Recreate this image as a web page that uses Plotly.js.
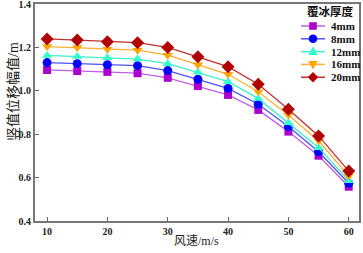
<!DOCTYPE html>
<html><head><meta charset="utf-8">
<script src="https://cdn.plot.ly/plotly-3.0.1.min.js"></script>
<style>html,body{margin:0;padding:0;background:#fff}#chart{width:363px;height:253px}</style>
</head><body><div id="chart"></div>
<script>
const windSpeed = [10, 15, 20, 25, 30, 35, 40, 45, 50, 55, 60];
const seriesNames = ['4mm', '8mm', '12mm', '16mm', '20mm'];
const ice4mm  = [1.096, 1.091, 1.087, 1.081, 1.060, 1.022, 0.981, 0.912, 0.812, 0.701, 0.558];
const ice8mm  = [1.130, 1.125, 1.120, 1.116, 1.093, 1.053, 1.011, 0.938, 0.835, 0.719, 0.574];
const ice12mm = [1.163, 1.158, 1.152, 1.146, 1.125, 1.085, 1.042, 0.965, 0.853, 0.738, 0.586];
const ice16mm = [1.204, 1.199, 1.192, 1.187, 1.164, 1.120, 1.076, 0.996, 0.888, 0.770, 0.607];
const ice20mm = [1.239, 1.234, 1.226, 1.222, 1.200, 1.157, 1.111, 1.030, 0.915, 0.792, 0.630];
const xTicks = [10, 20, 30, 40, 50, 60];
const yTicks = [0.4, 0.6, 0.8, 1.0, 1.2, 1.4];
const legendTitle = '覆冰厚度';
const xTitle = '风速/m/s';
const yTitle = '竖值位移幅值/m';

const values = [ice4mm, ice8mm, ice12mm, ice16mm, ice20mm];
const markerColors = ['#aa00cc', '#0000ff', '#33ffcc', '#ffa500', '#b00000'];
const lineColors = ['#c060e0', '#5050ff', '#40f0c8', '#ffb030', '#c03030'];
const symbols = ['square', 'circle', 'triangle-up', 'triangle-down', 'diamond'];
const sizes = [8, 9, 9, 9, 10];

const font = "'Liberation Serif', 'Noto Sans CJK SC', serif";
const traces = values.map((v, i) => ({
  x: windSpeed, y: v, name: seriesNames[i], type: 'scatter', mode: 'lines+markers',
  line: {color: lineColors[i], width: 1.3},
  marker: {color: markerColors[i], symbol: symbols[i], size: sizes[i], line: {width: 0}}
}));

// plot area in pixels (for legend placement)
const W = 363, H = 253, mL = 35, mR = 4, mT = 4, mB = 32;
const pw = W - mL - mR, ph = H - mT - mB;
const px = x => (x - mL) / pw;
const py = y => (H - mB - y) / ph;

// manual compact legend
const shapes = [], annotations = [];
const legTop = 26, legStep = 12.8, lineX0 = 301, lineX1 = 325, markX = 313, textX = 329;
const r = 4.3, k = r * 0.5523;
const glyphPaths = {
  'square': 'M-3.8,-3.8 L3.8,-3.8 L3.8,3.8 L-3.8,3.8 Z',
  'circle': `M${r},0 C${r},${k} ${k},${r} 0,${r} C${-k},${r} ${-r},${k} ${-r},0 C${-r},${-k} ${-k},${-r} 0,${-r} C${k},${-r} ${r},${-k} ${r},0 Z`,
  'triangle-up': 'M0,5 L4.8,-3.4 L-4.8,-3.4 Z',
  'triangle-down': 'M0,-5 L4.8,3.4 L-4.8,3.4 Z',
  'diamond': 'M0,-5.2 L5.2,0 L0,5.2 L-5.2,0 Z'
};
seriesNames.forEach((n, i) => {
  const yy = legTop + i * legStep;
  shapes.push({type: 'line', xref: 'paper', yref: 'paper', x0: px(lineX0), x1: px(lineX1), y0: py(yy), y1: py(yy),
    line: {color: lineColors[i], width: 1.5}});
  shapes.push({type: 'path', xref: 'paper', yref: 'paper', xsizemode: 'pixel', ysizemode: 'pixel',
    xanchor: px(markX), yanchor: py(yy), path: glyphPaths[symbols[i]],
    fillcolor: markerColors[i], line: {width: 0}});
  annotations.push({xref: 'paper', yref: 'paper', x: px(textX), y: py(yy), xanchor: 'left', yanchor: 'middle',
    text: '<b>' + n + '</b>', showarrow: false, font: {family: font, size: 11, color: '#111'}});
});
annotations.push({xref: 'paper', yref: 'paper', x: px(330), y: py(11.5), xanchor: 'center', yanchor: 'middle',
  text: '<b>' + legendTitle + '</b>', showarrow: false, font: {family: font, size: 11.5, color: '#111'}});
annotations.push({xref: 'paper', yref: 'paper', x: px(13), y: py(92), xanchor: 'center', yanchor: 'middle',
  textangle: -90, text: yTitle, showarrow: false, font: {family: font, size: 14, color: '#222'}});
annotations.push({xref: 'paper', yref: 'paper', x: px(196), y: py(241), xanchor: 'center', yanchor: 'middle',
  text: xTitle, showarrow: false, font: {family: font, size: 12, color: '#222'}});

const layout = {
  width: W, height: H,
  margin: {l: mL, r: mR, t: mT, b: mB},
  paper_bgcolor: '#fff', plot_bgcolor: '#fff',
  font: {family: font, size: 10, color: '#222'},
  showlegend: false,
  shapes: shapes, annotations: annotations,
  xaxis: {
    range: [8, 61.7], tickvals: xTicks, ticktext: xTicks.map(v => '<b>' + v + '</b>'),
    ticks: 'inside', ticklen: 4, tickcolor: '#666', tickwidth: 1,
    showline: true, mirror: true, linecolor: '#777', linewidth: 2,
    showgrid: false, zeroline: false, automargin: false,
    tickfont: {family: font, size: 10, color: '#222'}
  },
  yaxis: {
    range: [0.4, 1.4], tickvals: yTicks, ticktext: yTicks.map(v => '<b>' + v.toFixed(1) + '</b>'),
    ticks: 'inside', ticklen: 4, tickcolor: '#666', tickwidth: 1,
    showline: true, mirror: true, linecolor: '#777', linewidth: 2,
    showgrid: false, zeroline: false, automargin: false,
    ticklabeloverflow: 'allow',
    tickfont: {family: font, size: 10, color: '#222'}
  }
};
Plotly.newPlot('chart', traces, layout, {staticPlot: true, displayModeBar: false});
</script></body></html>
